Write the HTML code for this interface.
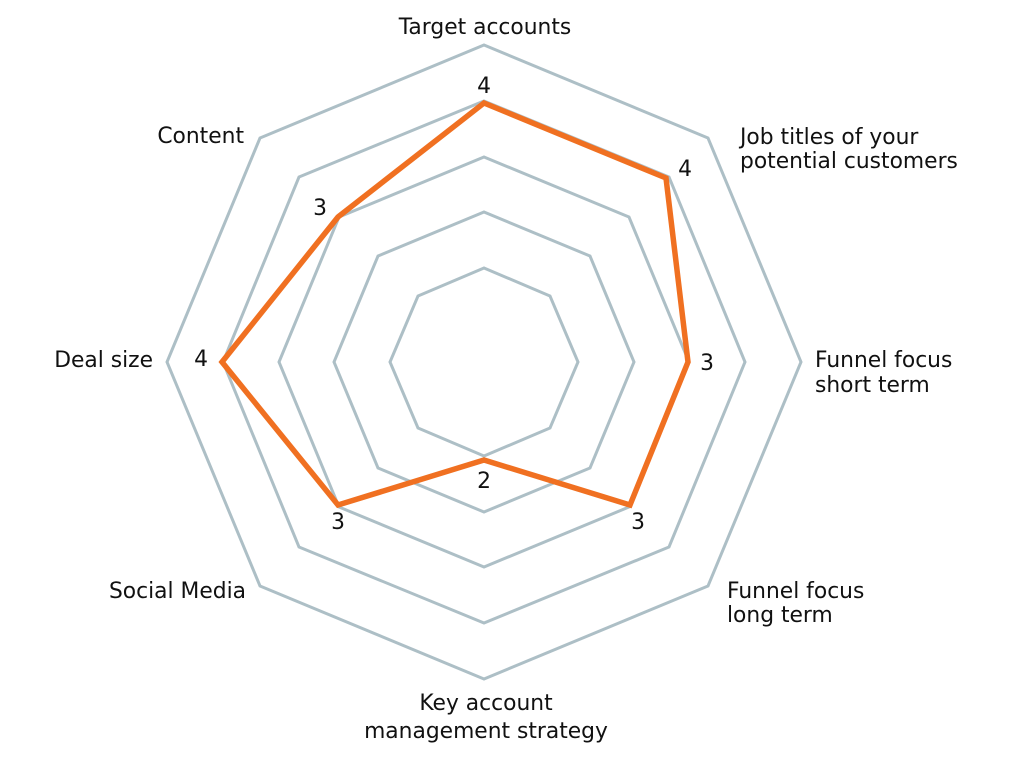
<!DOCTYPE html>
<html><head><meta charset="utf-8"><style>
html,body{margin:0;padding:0;background:#fff;}
svg text{font-family:"DejaVu Sans",sans-serif;font-size:21.8px;fill:#111;}
</style></head><body>
<svg width="1024" height="764" viewBox="0 0 1024 764" xmlns="http://www.w3.org/2000/svg">
<g fill="none" stroke="#adbfc6" stroke-width="3">
<polygon points="484,45 708,138 801,362 708,586 484,679 260,586 167,362 260,138"/>
<polygon points="484,101 669,177 745,362 669,547 484,623 299,547 223,362 299,177"/>
<polygon points="484,157 629,217 689,362 629,507 484,567 339,507 279,362 339,217"/>
<polygon points="484,212 590,256 634,362 590,468 484,512 378,468 334,362 378,256"/>
<polygon points="484,268 550,296 578,362 550,428 484,456 418,428 390,362 418,296"/>
</g>
<polygon fill="none" stroke="#f07021" stroke-width="5.5" stroke-linejoin="miter" points="484,103 666,178 688,362 630,505 484,460 338,505 222,362 338,217"/>
<g text-anchor="middle">
<text x="484" y="93">4</text>
<text x="685" y="176">4</text>
<text x="707" y="370">3</text>
<text x="638" y="529">3</text>
<text x="484" y="488">2</text>
<text x="338" y="529">3</text>
<text x="201" y="366">4</text>
<text x="320" y="215">3</text>
<text x="485" y="34">Target accounts</text>
<text x="486" y="710">Key account</text>
<text x="486" y="738">management strategy</text>
</g>
<text x="740" y="144">Job titles of your</text>
<text x="740" y="168">potential customers</text>
<text x="815" y="367">Funnel focus</text>
<text x="815" y="392">short term</text>
<text x="727" y="598">Funnel focus</text>
<text x="727" y="622">long term</text>
<g text-anchor="end">
<text x="246" y="598">Social Media</text>
<text x="153" y="367">Deal size</text>
<text x="244" y="143">Content</text>
</g>
</svg>
</body></html>
